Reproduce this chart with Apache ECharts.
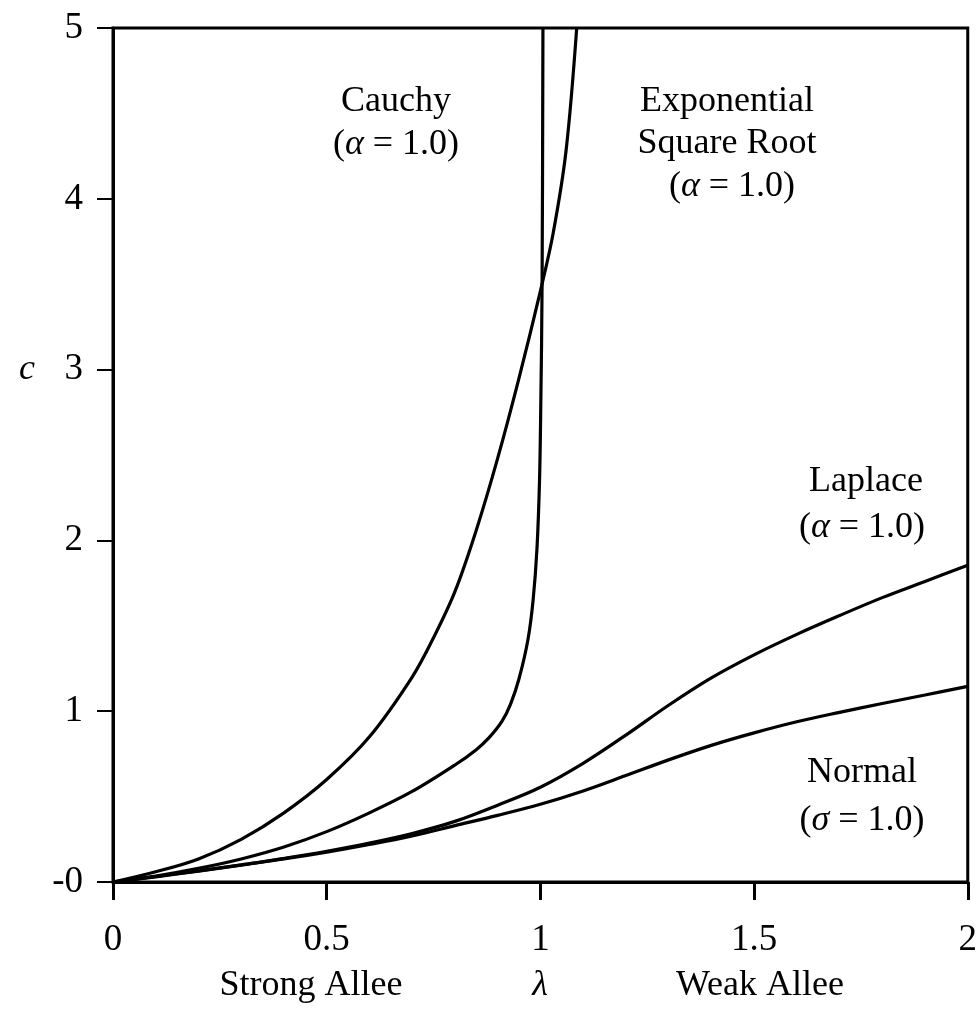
<!DOCTYPE html>
<html>
<head>
<meta charset="utf-8">
<script src="https://cdn.jsdelivr.net/npm/echarts@6/dist/echarts.min.js"></script>
<style>
html,body{margin:0;padding:0;background:#fff;}
#chart{width:980px;height:1016px;}
</style>
</head>
<body>
<div id="chart"></div>
<script>
// lambda / c values
const cauchyL = [0, 0.1, 0.2, 0.3, 0.4, 0.5, 0.6, 0.7, 0.75, 0.8, 0.85, 0.9, 0.95, 1.0, 1.03, 1.06, 1.085];
const cauchyC = [0, 0.06, 0.135, 0.25, 0.405, 0.60, 0.85, 1.20, 1.43, 1.70, 2.06, 2.48, 2.95, 3.46, 3.80, 4.28, 5.0];

const expSqrtL = [0, 0.1, 0.2, 0.3, 0.4, 0.5, 0.6, 0.7, 0.8, 0.85, 0.88, 0.91, 0.93, 0.95, 0.971, 0.983, 0.992, 0.998, 1.001, 1.004, 1.006];
const expSqrtC = [0, 0.035, 0.08, 0.135, 0.205, 0.295, 0.405, 0.53, 0.685, 0.775, 0.845, 0.94, 1.04, 1.19, 1.42, 1.65, 1.95, 2.35, 2.8, 3.5, 5.0];

const laplaceL = [0, 0.1, 0.2, 0.3, 0.4, 0.5, 0.6, 0.7, 0.8, 0.9, 1.0, 1.1, 1.2, 1.3, 1.4, 1.5, 1.6, 1.7, 1.8, 1.9, 2.0];
const laplaceC = [0, 0.03, 0.064, 0.099, 0.138, 0.18, 0.228, 0.284, 0.355, 0.45, 0.555, 0.695, 0.86, 1.035, 1.195, 1.33, 1.45, 1.56, 1.665, 1.76, 1.855];

const normalL = [0, 0.1, 0.2, 0.3, 0.4, 0.5, 0.6, 0.7, 0.8, 0.9, 1.0, 1.1, 1.2, 1.3, 1.4, 1.5, 1.6, 1.7, 1.8, 1.9, 2.0];
const normalC = [0, 0.032, 0.065, 0.10, 0.135, 0.175, 0.22, 0.27, 0.33, 0.39, 0.455, 0.533, 0.623, 0.715, 0.80, 0.873, 0.938, 0.993, 1.045, 1.095, 1.145];

const xTicks = [0, 0.5, 1, 1.5, 2];
const yTicks = [0, 1, 2, 3, 4, 5];

const FONT = 'Liberation Serif';
const pairs = (xs, ys) => xs.map((x, i) => [x, ys[i]]);

const chart = echarts.init(document.getElementById('chart'));

const lineSeries = (name, xs, ys) => ({
  name, type: 'line', data: pairs(xs, ys), showSymbol: false, symbol: 'none',
  smooth: 0.35,
  lineStyle: { color: '#000', width: 3.2 }, clip: true, z: 3
});

const txt = (x, y, rich) => ({
  type: 'text', x, y,
  style: { text: rich, x: 0, y: 0, align: 'center', verticalAlign: 'middle',
    font: '36px "' + FONT + '"', fill: '#000',
    rich: {
      g: { fontFamily: FONT, fontStyle: 'italic', fontSize: 36, fill: '#000' }
    } }
});

chart.setOption({
  animation: false,
  backgroundColor: '#fff',
  grid: { left: 113, right: 12, top: 28, bottom: 134, show: true, borderColor: '#000', borderWidth: 3, backgroundColor: 'transparent' },
  xAxis: {
    type: 'value', min: 0, max: 2, interval: 0.5,
    axisLine: { show: true, onZero: false, lineStyle: { color: '#000', width: 3 } },
    axisTick: { show: true, inside: false, length: 18, lineStyle: { color: '#000', width: 3 } },
    axisLabel: { margin: 40, fontFamily: FONT, fontSize: 37, color: '#000',
      customValues: xTicks,
      formatter: v => String(v) },
    splitLine: { show: false }
  },
  yAxis: {
    type: 'value', min: 0, max: 5, interval: 1,
    axisLine: { show: true, onZero: false, lineStyle: { color: '#000', width: 3 } },
    axisTick: { show: true, inside: false, length: 16, lineStyle: { color: '#000', width: 2 } },
    axisLabel: { margin: 30, fontFamily: FONT, fontSize: 37, color: '#000',
      customValues: yTicks,
      formatter: v => (v === 0 ? '-0' : String(v)) },
    splitLine: { show: false }
  },
  series: [
    lineSeries('Cauchy', cauchyL, cauchyC),
    lineSeries('Exponential Square Root', expSqrtL, expSqrtC),
    lineSeries('Laplace', laplaceL, laplaceC),
    lineSeries('Normal', normalL, normalC)
  ],
  graphic: [
    { type: 'text', x: 27, y: 370, style: { text: 'c', align: 'center', verticalAlign: 'middle', font: 'italic 36px "' + FONT + '"', fill: '#000' } },
    txt(311, 986, 'Strong Allee'),
    { type: 'text', x: 540, y: 986, style: { text: 'λ', align: 'center', verticalAlign: 'middle', font: 'italic 36px "' + FONT + '"', fill: '#000' } },
    txt(760, 986, 'Weak Allee'),
    txt(396, 102, 'Cauchy'),
    txt(396, 145, '({g|α} = 1.0)'),
    txt(727, 102, 'Exponential'),
    txt(727, 144, 'Square Root'),
    txt(732, 187, '({g|α} = 1.0)'),
    txt(866, 482, 'Laplace'),
    txt(862, 528, '({g|α} = 1.0)'),
    txt(862, 773, 'Normal'),
    txt(862, 821, '({g|σ} = 1.0)')
  ]
});
</script>
</body>
</html>
